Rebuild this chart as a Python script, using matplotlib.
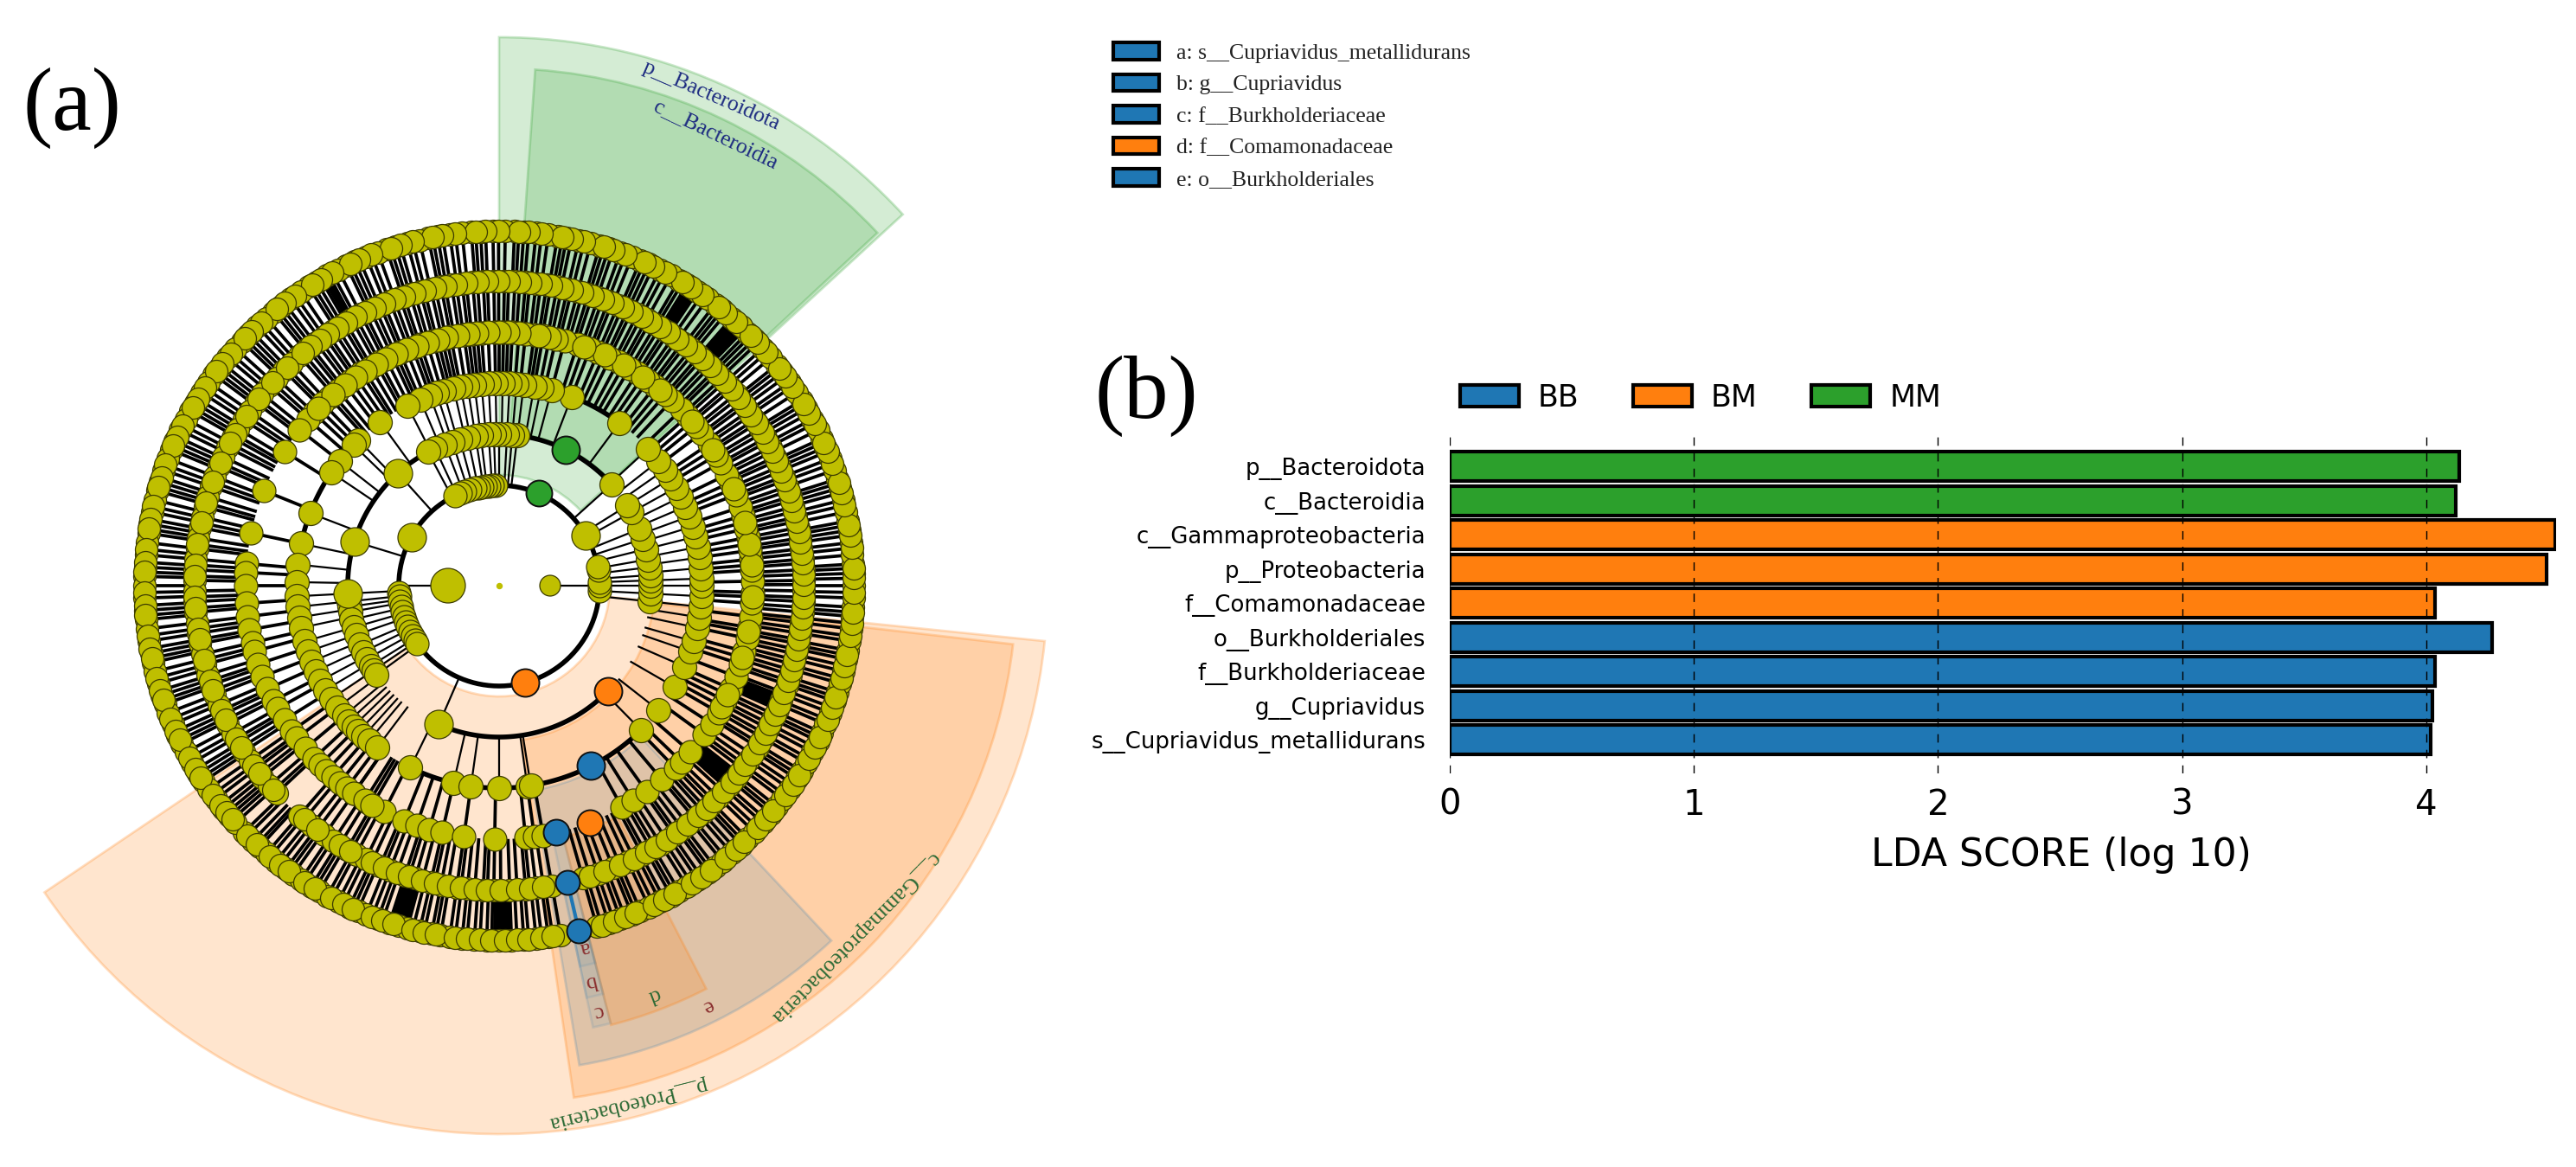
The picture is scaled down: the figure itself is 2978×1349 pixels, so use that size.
# coding:utf-8
# LEfSe 结果图：(a) 进化分支图  (b) LDA 得分条形图
import matplotlib
matplotlib.use('Agg')
import matplotlib.pyplot as plt
import numpy as np
from matplotlib.patches import Patch

W, H = 2978, 1349
BLUE, ORANGE, GREEN = '#1f77b4', '#ff7f0e', '#2ca02c'

# ---------- 条形图数据 ----------
taxa = ['s__Cupriavidus_metallidurans', 'g__Cupriavidus', 'f__Burkholderiaceae', 'o__Burkholderiales',
        'f__Comamonadaceae', 'p__Proteobacteria', 'c__Gammaproteobacteria', 'c__Bacteroidia', 'p__Bacteroidota']
lda_scores = [4.02, 4.025, 4.035, 4.27, 4.035, 4.495, 4.527, 4.12, 4.137]
bar_groups = ['BB', 'BB', 'BB', 'BB', 'BM', 'BM', 'BM', 'MM', 'MM']
group_names = ['BB', 'BM', 'MM']
group_colors = [BLUE, ORANGE, GREEN]

legend_a = ['a: s__Cupriavidus_metallidurans', 'b: g__Cupriavidus', 'c: f__Burkholderiaceae',
            'd: f__Comamonadaceae', 'e: o__Burkholderiales']
legend_a_colors = [BLUE, BLUE, BLUE, ORANGE, BLUE]

# ---------- 分支图数据：每一层的半径（像素）和节点角度（度）----------
ring_radius = [59, 116, 175, 234, 293, 352, 410]
ring_size = [30, 27, 28, 28, 27, 26, 26]

ring0 = [180, 0]
ring1 = [-3, 0, 2, 9, 11, 30, 92, 94, 96, 98, 100, 102, 104, 107, 110, 113, 116, 151, 184, 186, 189, 192, 195, 198,
         201, 204, 207, 210, 213, 215]
ring2 = [-6, -3, 0, 2, 4, 7, 10, 14, 18, 22, 29, 32, 42, 83, 85, 87, 90, 92, 94, 97, 99, 102, 105, 108, 111, 115, 118,
         132, 163, 183, 186, 188, 190, 193, 196, 199, 203, 206, 209, 212, 214, 216, 246.5]
ring3 = [-103, -98, -90, -82, -81, -45.5, -38, -30, -23.6, -19, -16, -12, -9, -6, -3, 0, 2, 5, 8, 11, 14, 17, 20, 23,
         26, 29, 32, 35, 38, 42.6, 53.5, 69, 75, 78, 80, 83, 85, 87, 89, 91, 93, 95, 97, 99, 101, 103, 106, 108, 110,
         113, 117, 126, 134, 136, 142, 146, 159, 168, 174, 179, 183, 186, 189, 192, 196, 199, 202, 205, 208, 211, 214,
         217, 220, 222, 224, 226, 228, 230, 233, 244]
ring4 = [-125, -121, -117, -112, -109, -106, -103, -98, -91, -84, -82, -80, -61, -58, -54.4, -50, -46, -44, -41, -36,
         -33, -30, -27, -24, -21, -18, -15, -12, -9.5, -7, -4, -1.5, 1, 3.5, 6, 8, 11, 13, 16, 18, 21, 24, 26, 29, 31,
         34, 37, 39, 42, 44, 47, 49, 52, 54, 57, 59, 62, 64, 67, 69, 72, 75, 77, 80, 82, 84, 87, 89, 91, 94, 96, 98,
         101, 103, 105, 108, 110, 113, 115, 118, 120.5, 123, 126, 129.5, 132, 134, 137, 139, 142, 148, 158, 168, 175,
         177, 180, 184, 187, 190, 193, 195, 198, 201, 204, 207, 209, 212, 215, 217, 220, 223, 225, 227, 229, 231, 233,
         235, 238, 240,
         # 顶部和右侧较密的部分
         -28.5, -25.5, -16.5, -10.5, -2.5, 4.7, 9.5, 14.5, 22.5, 32.5, 40.5, 50.5, 55.5, 60.5, 65.5, 70.5, 78.5, 81,
         85.5, 88, 90, 92.5, 95, 97, 99.5, 102, 104, 106.5, 109, 111.5, 114, 116.5, 119, 122, 124.5, 127.5, 131, 135.5]
ring5 = [-131, -128, -125, -123, -120, -118, -116, -113, -111, -108, -106, -103, -101, -98, -96, -93, -91, -88, -85,
         -83, -80, -74, -71, -68, -65, -62, -60, -58, -55, -53, -50, -48, -46, -44, -41, -39, -37, -35, -32, -30, -28,
         -26, -24, -22, -19, -17, -15, -13, -11, -9, -7, -5, -3, -1, 1, 3, 5, 7, 9, 11, 13, 15, 17, 19, 21, 23, 25, 27,
         29, 31, 33, 35, 37, 39, 41, 43, 45, 47, 49, 51, 53, 55, 57, 59, 61, 63, 65, 67, 69, 71, 73, 75, 77, 79, 81,
         83, 85, 87, 89, 91, 93, 95, 97, 99, 101, 103, 105, 107, 109, 111, 113, 115, 117, 119, 121, 123, 125, 127,
         129, 131, 133, 135, 137, 139, 141, 143, 145, 147, 149, 151, 153, 155, 157, 159, 161, 163, 165, 167, 169, 171,
         173, 175, 177, 179, 181, 183, 185, 187, 189, 191, 193, 195, 197, 199, 201, 203, 205, 207, 209, 211, 213, 215,
         217, 219, 221, 223,
         # 另一批更密的末端
         -129.8, -126.7, -121.6, -119.2, -114.7, -112.2, -109.6, -107.2, -104.6, -102.2, -99.7, -97.2, -94.6, -92.2,
         -89.7, -86.6, -84.2, -81.6, -72.6, -69.7, -66.6, -63.7, -61.2, -59.1, -56.6, -54.2, -51.7, -49.2, -47.1, -45.1,
         -42.6, -40.2, -38.1, -36.1, -33.7, -31.2, -29.1, -27.1, -25.1, -23.1, -20.6, -18.2, -16.1, -14.1, -12.1, -10.2,
         -8.1, -6.2, -4.1, -2.2, 0.2, 2.1, 4.2, 6.1, 8.2, 10.1, 12.2, 14.1, 16.2, 18.1, 20.2, 22.1, 24.2, 26.1, 28.2,
         30.1, 32.2, 34.1, 36.2, 38.1, 40.2, 42.1, 44.2, 46.1, 48.2, 50.1, 52.2, 54.1, 56.2, 58.1, 60.2, 62.1, 64.2,
         66.1, 68.2, 70.1, 72.2, 74.1, 76.2, 78.1, 80.2, 82.1, 84.2, 86.1, 88.2, 90.1, 92.2, 94.1, 96.2, 98.1, 100.2,
         102.1, 104.2, 106.1, 108.2, 110.1, 112.2, 114.1, 116.2, 118.1, 120.2, 122.1, 124.2, 126.1, 128.2, 130.1,
         134.2, 138.1, 142.2, 146.1, 150.2, 152.1, 156.2, 160.1, 164.2, 168.1, 172.2, 176.1, 178.2, 182.1, 184.2,
         188.1, 190.2, 194.1, 198.2, 200.1, 204.2, 206.1, 210.2, 212.1, 216.2, 218.1, 222.2]
ring6 = [-136, -134, -132.5, -131, -129, -127, -125.5, -124, -122, -120.5, -119, -117, -115, -113.5, -112, -110, -108,
         -106.5, -105, -103, -101, -99.5, -98, -96, -94, -92, -90, -88, -86, -84, -82, -80, -74, -72, -70, -68, -66.5,
         -65, -63, -61, -59.5, -58, -56, -54, -52.5, -51, -49, -47, -45.5, -44, -42, -40, -38.5, -37, -35, -33, -31.5,
         -30, -28, -26, -24.5, -23, -21, -19, -17.5, -16, -14, -12, -10.5, -9, -7, -5, -3.5, -2, 0, 2, 3.5, 5, 7, 9,
         10.5, 12, 14, 16, 17.5, 19, 21, 23, 24.5, 26, 28, 30, 31.5, 33, 35, 37, 38.5, 40, 42, 44, 45.5, 47, 49, 51,
         52.5, 54, 56, 58, 59.5, 61, 63, 65, 66.5, 68, 70, 72, 73.5, 75, 77, 79, 80.5, 82, 84, 86, 87.5, 89, 91, 93,
         94.5, 96, 98, 100, 101.5, 103, 105, 107, 108.5, 110, 112, 114, 115.5, 117, 119, 121, 122.5, 124, 126, 128,
         129.5, 131, 133, 135, 136.5, 138, 140, 142, 143.5, 145, 147, 149, 150.5, 152, 154, 156, 157.5, 159, 161, 163,
         164.5, 166, 168, 170, 171.5, 173, 175, 177, 178.5, 180, 182, 184, 185.5, 187, 189, 191, 192.5, 194, 196, 198,
         199.5, 201, 203, 205, 206.5, 208, 210, 212, 213.5, 215, 217, 219, 220.5, 222,
         # 另一批更密的末端
         -135.2, -133.1, -130.2, -128.1, -126.3, -123.2, -121.3, -118.2, -116.1, -114.3, -111, -109.2, -107.3, -104.1,
         -102.2, -100.3, -97.1, -95.2, -93.1, -91.2, -89, -87.1, -85.2, -83.1, -81.3, -73.2, -71.1, -69.2, -67.3,
         -64.1, -62.2, -60.3, -57.1, -55.2, -53.3, -50.2, -48.1, -46.3, -43.1, -41.2, -39.3, -36.2, -34.1, -32.3,
         -29.2, -27.1, -25.3, -22.2, -20.1, -18.3, -15.2, -13.1, -11.3, -8.2, -6.1, -4.3, -1.1, 1.2, 2.8, 6.1, 8.2,
         9.8, 13.1, 15.2, 16.8, 20.1, 22.2, 23.8, 27.2, 29.1, 30.8, 34.2, 36.1, 37.8, 41.1, 43.2, 44.8, 48.1, 50.2,
         51.7, 55.1, 57.2, 58.8, 62.1, 64.2, 65.8, 69.1, 71.2, 72.8, 76.1, 78.2, 79.7, 83.1, 85.2, 86.8, 90.1, 92.2,
         93.8, 97.1, 99.2, 100.8, 104.1, 106.2, 107.8, 111.1, 113.2, 114.8, 118.1, 120.2, 121.8, 125.1, 127.2, 128.8,
         132.1, 134.2, 135.8, 139.1, 141.2, 142.8, 146.1, 148.2, 149.8, 153.1, 155.2, 156.8, 160.1, 162.2, 163.8,
         167.1, 169.2, 170.8, 174.1, 176.2, 177.8, 181.1, 183.2, 184.8, 188.1, 190.2, 191.8, 195.1, 197.2, 198.8,
         202.1, 204.2, 205.8, 209.1, 211.2, 212.8, 216.1, 218.2, 219.8, 221.2]
rings = [ring0, ring1, ring2, ring3, ring4, ring5, ring6]

# 粗线弧段：层号、起止角度
arc_ring = [1, 2, 2, 2, 3, 3, 3]
arc_start = [0, -113.5, 118, 42, -116, 53.5, 146]
arc_end = [360, -44, 186, 83, -45, 69, 168]

# 线条非常密集、看起来全黑的扇段：内外半径、起止角度
dense_inner = [352, 352, 352, 352, 352, 293, 293]
dense_outer = [410, 410, 410, 410, 410, 352, 352]
dense_start = [46, 56, 118.5, -91, -108, -42, -24]
dense_end = [49, 58, 120, -88, -105, -38, -21]

# 彩色节点：层号、角度、分组颜色、直径
mark_ring = [1, 2, 1, 2, 3, 4, 4, 5, 6]
mark_angle = [66.7, 64, -75, -44, -63, -69, -77, -77, -77]
mark_color = [GREEN, GREEN, ORANGE, ORANGE, BLUE, ORANGE, BLUE, BLUE, BLUE]
mark_size = [30, 32, 32, 32, 32, 30, 30, 28, 28]

# 扇形标注：起止角度、内外半径、颜色、透明度
sector_start = [42.6, 43, -146, -81.7, -80.5, -75.7, -78, -78, -78]
sector_end = [90, 86, -5.8, -6.5, -46.9, -62.8, -75.7, -75.7, -75.7]
sector_inner = [128, 177, 128, 180, 240, 300, 300, 360, 418]
sector_outer = [634, 598, 634, 598, 562, 524, 522, 487, 450]
sector_color = [GREEN, GREEN, ORANGE, ORANGE, BLUE, ORANGE, BLUE, BLUE, BLUE]
sector_alpha = [0.2, 0.2, 0.2, 0.2, 0.14, 0.2, 0.08, 0.06, 0.06]

# 扇形内文字：文字、角度、半径、颜色
label_text = ['p__Bacteroidota', 'c__Bacteroidia', 'p__Proteobacteria', 'c__Gammaproteobacteria', 'e', 'd', 'c', 'b', 'a']
label_angle = [66.6, 64.3, -76, -44.7, -63.7, -69.2, -77, -76.8, -76.7]
label_radius = [617, 578, 617, 578, 542, 506, 505, 470, 430]
NAVY, DKGREEN, DKRED = '#1c2a80', '#2c6a35', '#8a2e2e'
label_color = [NAVY, NAVY, DKGREEN, DKGREEN, DKRED, DKGREEN, DKRED, DKRED, DKRED]


def px_size(d):
    # 像素直径换算为 scatter 的 s
    return (d * 0.72) ** 2


def draw_cladogram(fig):
    R = 680
    cx, cy = 577, 677
    ax = fig.add_axes([(cx - R) / W, (H - cy - R) / H, 2 * R / W, 2 * R / H], projection='polar')
    ax.set_ylim(0, R)
    ax.axis('off')

    to_rgba = matplotlib.colors.to_rgba
    for a0, a1, r0, r1, c, al in zip(sector_start, sector_end, sector_inner, sector_outer, sector_color, sector_alpha):
        ax.bar(np.radians((a0 + a1) / 2), r1 - r0, width=np.radians(a1 - a0), bottom=r0,
               facecolor=to_rgba(c, al), edgecolor=to_rgba(c, al + 0.05), linewidth=2, zorder=1)

    for a0, a1, r0, r1 in zip(dense_start, dense_end, dense_inner, dense_outer):
        ax.bar(np.radians((a0 + a1) / 2), r1 - r0, width=np.radians(a1 - a0), bottom=r0, color='black', zorder=2)

    # 径向连线：第 1 层只有两条来自第 0 层的线
    ax.vlines(np.radians(ring0), ring_radius[0], ring_radius[1], color='black', linewidth=1.6, zorder=2)
    for k in range(2, len(rings)):
        lw = 1.6 if k < 4 else 2.7
        ax.vlines(np.radians(rings[k]), ring_radius[k - 1], ring_radius[k], color='black', linewidth=lw, zorder=2)
    ax.vlines(np.radians(-77), ring_radius[5], ring_radius[6], color=BLUE, linewidth=3, zorder=2.5)

    # 粗线弧段
    for k, a0, a1 in zip(arc_ring, arc_start, arc_end):
        th = np.radians(np.arange(a0, a1 + 1, 1.0))
        ax.plot(th, np.full(len(th), ring_radius[k]), color='black', linewidth=4, zorder=2.2)

    # 节点，外层先画
    for k in range(len(rings) - 1, -1, -1):
        s = [px_size(40), px_size(24)] if k == 0 else px_size(ring_size[k])
        ax.scatter(np.radians(rings[k]), np.full(len(rings[k]), ring_radius[k]), s=s, color='#bfbf00',
                   edgecolor='#3c3c00', linewidth=0.9, zorder=3 + k * 0.01)
    ax.scatter([0], [0], s=px_size(6), color='#bfbf00', zorder=3)
    ax.scatter(np.radians([246.5, 132, 151, 163, 183, 30]), [175, 175, 116, 175, 175, 116], s=px_size(33),
               color='#bfbf00', edgecolor='#3c3c00', linewidth=0.9, zorder=3.2)

    for k, a, c, d in zip(mark_ring, mark_angle, mark_color, mark_size):
        ax.scatter(np.radians(a), ring_radius[k], s=px_size(d), color=c, edgecolor='#111111', linewidth=1.4, zorder=4)

    for t, a, r, c in zip(label_text, label_angle, label_radius, label_color):
        ax.text(np.radians(a), r, t, rotation=a - 90, rotation_mode='anchor', ha='center', va='center',
                family='Liberation Serif', fontsize=18.5, color=c, zorder=5)


def draw_bars(fig):
    left, right, top, bottom = 1676, 2955, 500, 894
    ax = fig.add_axes([left / W, (H - bottom) / H, (right - left) / W, (bottom - top) / H])
    colors = [group_colors[group_names.index(g)] for g in bar_groups]
    y = np.arange(len(taxa))
    ax.barh(y, lda_scores, height=0.86, color=colors, edgecolor='black', linewidth=3)
    ax.set_xlim(0, (right - left) / 282.2)
    ax.set_ylim(-0.975, 8.99)
    ax.set_yticks(y)
    ax.set_yticklabels(taxa, fontsize=18.7)
    ax.set_xticks([0, 1, 2, 3, 4])
    ax.tick_params(axis='x', labelsize=29, length=0, pad=12)
    ax.tick_params(axis='y', length=0, pad=20)
    ax.grid(axis='x', linestyle=(0, (7, 6)), color='black', linewidth=1.0)
    ax.set_axisbelow(False)
    for s in ax.spines.values():
        s.set_visible(False)
    fig.text(2383 / W, 1 - 988 / H, 'LDA SCORE (log 10)', fontsize=31.8, ha='center', va='center')

    handles = [Patch(facecolor=c, edgecolor='black', linewidth=3) for c in group_colors]
    fig.legend(handles, group_names, ncol=3, loc='center left', bbox_to_anchor=(1688 / W, 1 - 460 / H),
               frameon=False, fontsize=25, borderpad=0, borderaxespad=0, handlelength=1.96, handleheight=0.72,
               handletextpad=0.63, columnspacing=1.8)


fig = plt.figure(figsize=(W / 100, H / 100), dpi=100)
draw_cladogram(fig)
draw_bars(fig)

handles_a = [Patch(facecolor=c, edgecolor='black', linewidth=3) for c in legend_a_colors]
fig.legend(handles_a, legend_a, loc='upper left', bbox_to_anchor=(1287 / W, 1 - 49 / H), frameon=False,
           prop={'family': 'Liberation Serif', 'size': 18.5}, labelcolor='#222222', borderpad=0, borderaxespad=0,
           handlelength=2.08, handleheight=0.82, handletextpad=0.76, labelspacing=0.49)

fig.text(26 / W, 1 - 150 / H, '(a)', family='Liberation Serif', fontsize=74, va='baseline')
fig.text(1265 / W, 1 - 483 / H, '(b)', family='Liberation Serif', fontsize=74, va='baseline')

fig.savefig('out.png', dpi=100)
